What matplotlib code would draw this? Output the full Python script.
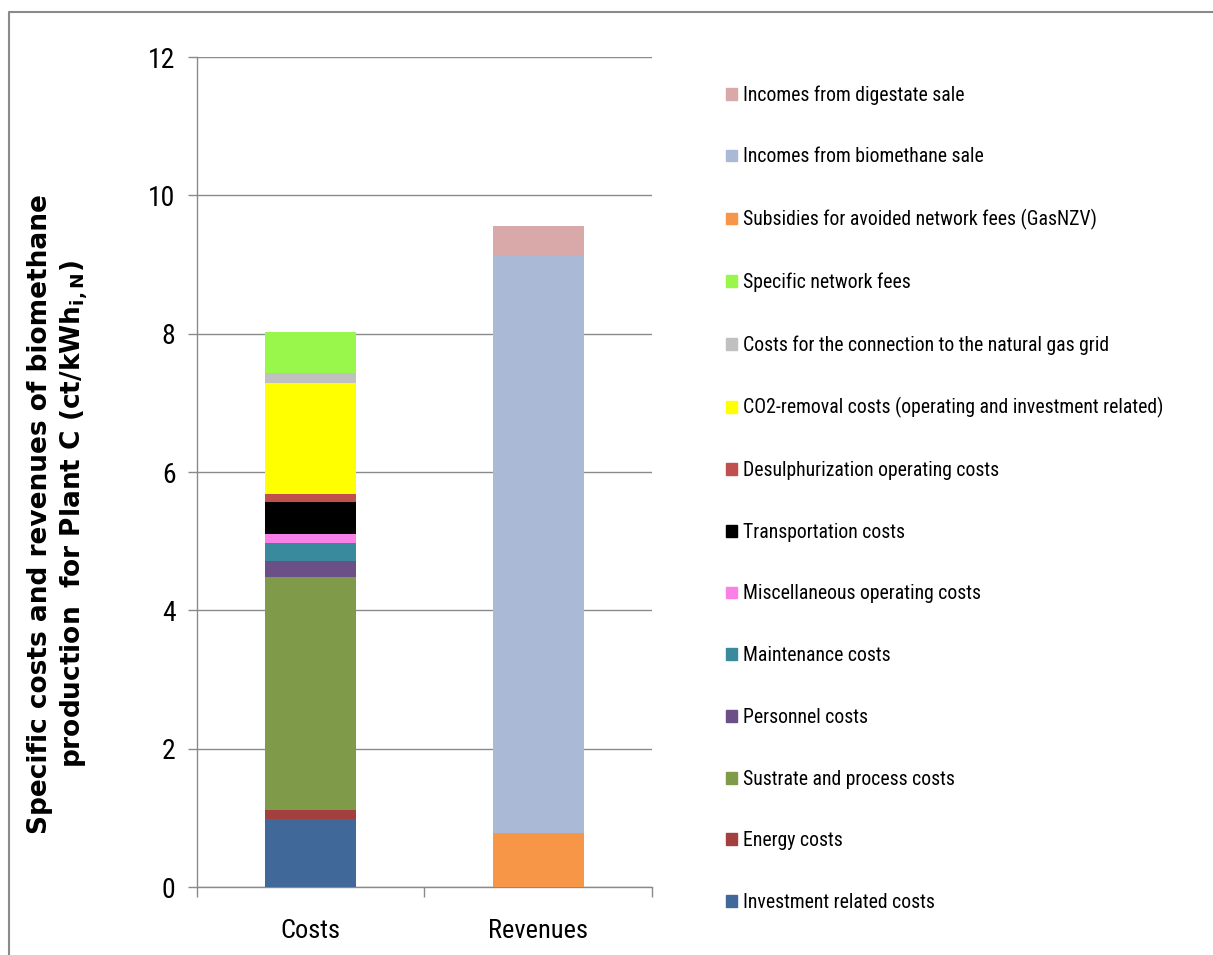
import matplotlib
matplotlib.use("Agg")
import matplotlib.pyplot as plt
from matplotlib.lines import Line2D
from matplotlib.patches import Patch

# Stacked components, bottom to top (ct/kWh)
cost_labels = [
    "Investment related costs",
    "Energy costs",
    "Sustrate and process costs",
    "Personnel costs",
    "Maintenance costs",
    "Miscellaneous operating costs",
    "Transportation costs",
    "Desulphurization operating costs",
    "CO2-removal costs (operating and investment related)",
    "Costs for the connection to the natural gas grid",
    "Specific network fees",
]
cost_values = [0.98, 0.13, 3.37, 0.24, 0.25, 0.13, 0.47, 0.11, 1.60, 0.15, 0.59]
cost_colors = ["#40699A", "#A33F3E", "#7F9A48", "#6A5087", "#3A8A9E", "#FA80E8",
               "#000000", "#C0504D", "#FFFF00", "#C0C0C0", "#99F74B"]

revenue_labels = [
    "Subsidies for avoided network fees (GasNZV)",
    "Incomes from biomethane sale",
    "Incomes from digestate sale",
]
revenue_values = [0.78, 8.34, 0.44]
revenue_colors = ["#F79646", "#AAB9D6", "#D9A8A8"]

categories = ["Costs", "Revenues"]
y_ticks = [0, 2, 4, 6, 8, 10, 12]

NARROW = ["Roboto Condensed", "Lato"]
GREY = "#8a8a8a"

fig = plt.figure(figsize=(12.13, 9.55), dpi=100)
ax = fig.add_axes([0.1624, 0.0712, 0.3751, 0.8691])

bar_w = 0.4
bottom = 0.0
for val, col in zip(cost_values, cost_colors):
    ax.bar(0, val, bar_w, bottom=bottom, color=col, zorder=3)
    bottom += val
bottom = 0.0
for val, col in zip(revenue_values, revenue_colors):
    ax.bar(1, val, bar_w, bottom=bottom, color=col, zorder=3)
    bottom += val

ax.set_xlim(-0.5, 1.5)
ax.set_ylim(0, 12)
ax.set_yticks(y_ticks)
ax.set_yticklabels([str(t) for t in y_ticks], family=NARROW, fontsize=20)
ax.set_xticks([0, 1])
ax.set_xticklabels(categories, family=NARROW, fontsize=19)
ax.set_xticks([-0.5, 0.5, 1.5], minor=True)
ax.tick_params(axis="x", which="major", length=0, pad=23)
ax.tick_params(axis="x", which="minor", length=7, color=GREY, width=1)
ax.tick_params(axis="y", length=6.5, color=GREY, width=1, pad=9)

ax.yaxis.grid(True, color=GREY, lw=1, zorder=0)
for side in ["top", "right"]:
    ax.spines[side].set_visible(False)
for side in ["left", "bottom"]:
    ax.spines[side].set_color(GREY)
    ax.spines[side].set_linewidth(1)

# legend: revenues on top, costs below, reverse stack order
handles = [Patch(color=c) for c in revenue_colors[::-1] + cost_colors[::-1]]
labels = revenue_labels[::-1] + cost_labels[::-1]
fig.legend(handles, labels, loc="upper left", bbox_to_anchor=(0.592, 0.919),
           frameon=False, prop={"family": NARROW, "size": 14.2},
           handlelength=0.55, handleheight=0.55, handletextpad=0.3,
           labelspacing=2.165, borderaxespad=0)

fig.text(0.048, 0.462,
         "Specific costs and revenues of biomethane\n"
         "production  for Plant C (ct/kWh$_{\\mathregular{i,N}}$)",
         rotation=90, ha="center", va="center", multialignment="center",
         fontsize=19, fontweight="bold", family="DejaVu Sans", linespacing=1.25)

# outer frame (top and left edges)
fx = 9 / 1213
fy = 1 - 12 / 955
fig.add_artist(Line2D([fx, fx, 1], [0, fy, fy], transform=fig.transFigure,
                      color=GREY, lw=1.5))

fig.savefig("out.png", dpi=100)
